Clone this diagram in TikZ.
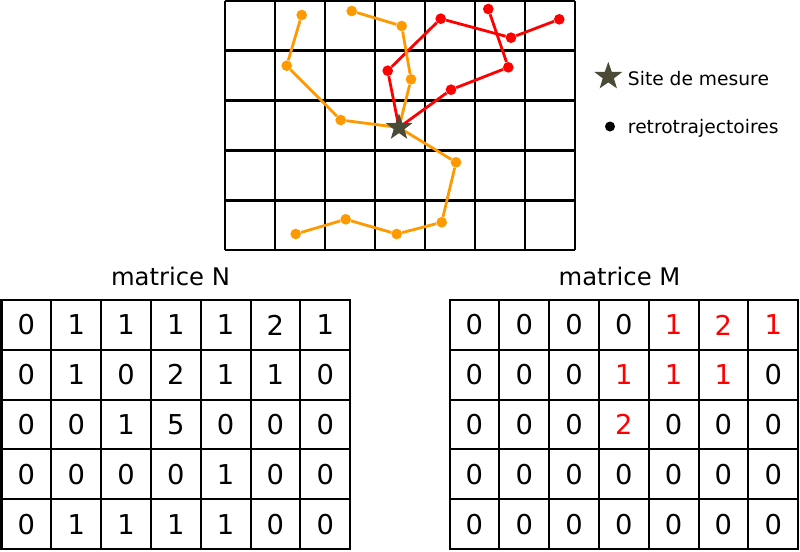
\documentclass[tikz,border=0pt]{standalone}
\usepackage{fontspec}
\setmainfont{DejaVu Sans}
\usetikzlibrary{shapes.geometric}
\definecolor{trajorange}{HTML}{FF9900}
\definecolor{sitegray}{HTML}{4A4A36}
\tikzset{
    cellbox/.style={draw, line width=1.5pt, minimum width=37.35pt, minimum height=37.35pt, inner sep=0pt, font=\fontsize{20.5}{24}\selectfont},
    gridline/.style={draw, line width=2.1pt},
    orangedot/.style={shape=circle, fill=trajorange, inner sep=0pt, minimum size=8pt},
    reddot/.style={shape=circle, fill=red, inner sep=0pt, minimum size=8pt},
    orangepath/.style={draw=trajorange, line width=2.1pt},
    redpath/.style={draw=red, line width=2.1pt},
    sitestar/.style={shape=star, star points=5, star point ratio=2.5, fill=sitegray, inner sep=0pt, minimum size=21pt},
    legendtext/.style={anchor=base west, inner sep=0pt, font=\fontsize{14}{16}\selectfont}
}
\newcommand{\inred}[1]{{\color{red}#1}}

\begin{document}
\begin{tikzpicture}[x=0.75pt,y=-0.75pt]
    \useasboundingbox (0,0) rectangle (800,551);

    % map grid
    \foreach \c in {0,...,7}
        \draw[gridline] ({225+50*\c},1) -- ({225+50*\c},250);
    \foreach \r in {0,...,5}
        \draw[gridline] (225,{1+49.8*\r}) -- (575,{1+49.8*\r});

    \coordinate (site) at (399,127.5);

    % red back-trajectories
    \node[reddot] (ra1) at (387.7,70.7) {};
    \node[reddot] (ra2) at (440.7,18.7) {};
    \node[reddot] (ra3) at (511,37.7) {};
    \node[reddot] (ra4) at (559.3,19.3) {};
    \node[reddot] (rb1) at (451,89.7) {};
    \node[reddot] (rb2) at (508.3,67.3) {};
    \node[reddot] (rb3) at (488.3,9) {};

    \draw[redpath] (site) -- (ra1) -- (ra2) -- (ra3) -- (ra4);
    \draw[redpath] (site) -- (rb1) -- (rb2) -- (rb3);

    % orange back-trajectories
    \node[orangedot] (oa1) at (340.7,120) {};
    \node[orangedot] (oa2) at (286.7,65.7) {};
    \node[orangedot] (oa3) at (301.7,15) {};
    \node[orangedot] (ob1) at (411,79.3) {};
    \node[orangedot] (ob2) at (401.7,26) {};
    \node[orangedot] (ob3) at (351.7,11) {};
    \node[orangedot] (oc1) at (456,162.3) {};
    \node[orangedot] (oc2) at (441.7,222.3) {};
    \node[orangedot] (oc3) at (396.7,234) {};
    \node[orangedot] (oc4) at (345.7,219.3) {};
    \node[orangedot] (oc5) at (295.7,234) {};

    \draw[orangepath] (site) -- (oa1) -- (oa2) -- (oa3);
    \draw[orangepath] (site) -- (ob1) -- (ob2) -- (ob3);
    \draw[orangepath] (site) -- (oc1) -- (oc2) -- (oc3) -- (oc4) -- (oc5);

    \node[sitestar] (sitemark) at (site) {};

    % legend
    \node[sitestar, minimum size=22pt] (legstar) at (608.3,76.5) {};
    \node[legendtext] (legsite) at (627.7,85) {Site de mesure};
    \node[shape=circle, fill=black, inner sep=0pt, minimum size=7.5pt] (legdot) at (610,126.5) {};
    \node[legendtext] (legtraj) at (627.7,133.3) {retrotrajectoires};

    % matrices
    \node[anchor=base, font=\fontsize{18.2}{22}\selectfont] (titleN) at (170.5,285.7) {matrice N};
    \node[anchor=base, font=\fontsize{18.2}{22}\selectfont] (titleM) at (619.5,285.7) {matrice M};

    \foreach \row [count=\r] in {{0,1,1,1,1,2,1},{0,1,0,2,1,1,0},{0,0,1,5,0,0,0},{0,0,0,0,1,0,0},{0,1,1,1,1,0,0}}
        \foreach \v [count=\c] in \row
            \node[cellbox] (N-\r-\c) at ({1.5+49.8*(\c-0.5)},{300+49.8*(\r-0.5)}) {\v};

    \foreach \row [count=\r] in {{0,0,0,0,\inred{1},\inred{2},\inred{1}},{0,0,0,\inred{1},\inred{1},\inred{1},0},{0,0,0,\inred{2},0,0,0},{0,0,0,0,0,0,0},{0,0,0,0,0,0,0}}
        \foreach \v [count=\c] in \row
            \node[cellbox] (M-\r-\c) at ({449.5+49.8*(\c-0.5)},{300+49.8*(\r-0.5)}) {\v};

\end{tikzpicture}
\end{document}
